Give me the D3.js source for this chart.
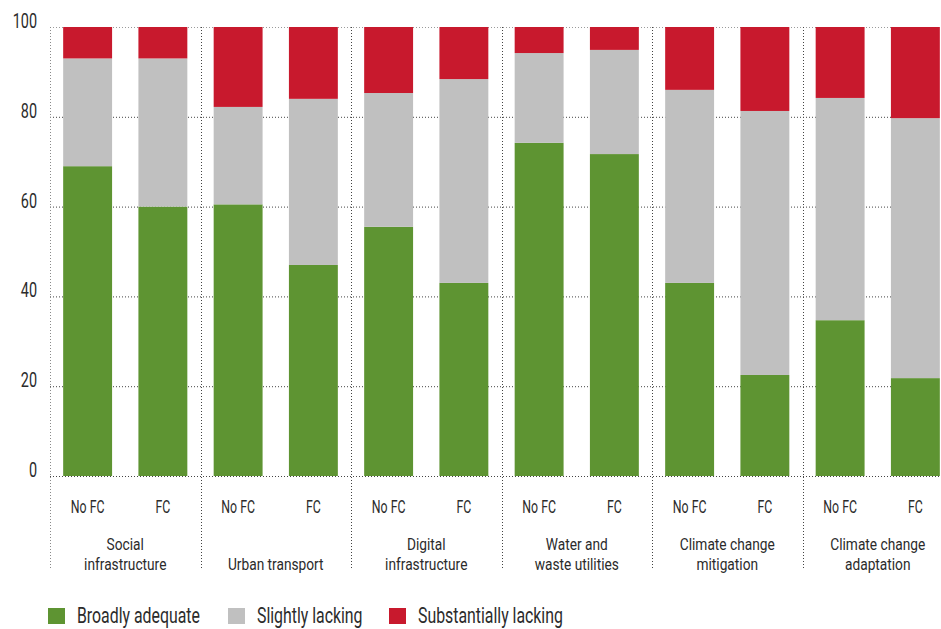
<!DOCTYPE html>
<html>
<head>
<meta charset="utf-8">
<script src="https://cdn.jsdelivr.net/npm/d3@7"></script>
<style>
  html, body { margin: 0; padding: 0; background: #fff; }
  svg { display: block; }
  text { font-family: "Roboto", "Open Sans", sans-serif; fill: #2b2b2b; }
</style>
</head>
<body>
<svg id="chart" width="941" height="629"></svg>
<script>
// ---- data ----
const categories = [
  ["Social", "infrastructure"],
  ["", "Urban transport"],
  ["Digital", "infrastructure"],
  ["Water and", "waste utilities"],
  ["Climate change", "mitigation"],
  ["Climate change", "adaptation"]
];
const subgroups = ["No FC", "FC"];
const seriesNames = ["Broadly adequate", "Slightly lacking", "Substantially lacking"];
const seriesColors = ["#5e9432", "#c0c0c0", "#c8192d"];
// values per bar, ordered: [cat0 No FC, cat0 FC, cat1 No FC, ...]
const broadlyAdequate   = [69, 60, 60.5, 47, 55.5, 43, 74.2, 71.7, 43, 22.5, 34.7, 21.8];
const slightlyLacking   = [24, 33, 21.7, 37, 29.8, 45.4, 20, 23.2, 43, 58.8, 49.5, 57.9];
const substantiallyLacking = [7, 7, 17.8, 16, 14.7, 11.6, 5.8, 5.1, 14, 18.7, 15.8, 20.3];
const yTicks = [0, 20, 40, 60, 80, 100];

// ---- layout ----
const svg = d3.select("#chart");
const mLeft = 50, mRight = 953, mTop = 27, mBottom = 476;

const xGroup = d3.scaleBand().domain(d3.range(categories.length)).range([mLeft, mRight]).padding(0);
const xInner = d3.scaleBand().domain(subgroups).range([0, xGroup.bandwidth()])
  .paddingInner(0.35).paddingOuter(0.175);
const y = d3.scaleLinear().domain([0, 100]).range([mBottom, mTop]);

// rows for stacking
const rows = [];
categories.forEach((c, ci) => {
  subgroups.forEach((s, si) => {
    const i = ci * 2 + si;
    rows.push({ cat: ci, sub: s,
      "Broadly adequate": broadlyAdequate[i],
      "Slightly lacking": slightlyLacking[i],
      "Substantially lacking": substantiallyLacking[i] });
  });
});
const stack = d3.stack().keys(seriesNames)(rows);

// calibration of a condensed look: measure first legend label
const probe = svg.append("text").attr("font-size", 22).text(seriesNames[0]);
const k = 123 / probe.node().getComputedTextLength();
probe.remove();
const place = (x, yy, f = 1) => `translate(${x},${yy}) scale(${k * f},1)`;

// gridlines
const grid = svg.append("g");
grid.selectAll("line.h").data(yTicks).join("line")
  .attr("x1", mLeft).attr("x2", 941)
  .attr("y1", d => y(d) + 0.5).attr("y2", d => y(d) + 0.5)
  .attr("stroke", d => d === 100 ? "#9a9a9a" : "#444")
  .attr("stroke-width", 1)
  .attr("stroke-dasharray", "1,2");

// vertical separators (left axis + group boundaries)
const seps = d3.range(categories.length).map(i => xGroup(i));
grid.selectAll("line.v").data(seps).join("line")
  .attr("x1", d => Math.round(d) + 0.5).attr("x2", d => Math.round(d) + 0.5)
  .attr("y1", mTop).attr("y2", 570)
  .attr("stroke", (d, i) => i === 0 ? "#8a8a8a" : "#444")
  .attr("stroke-width", 1)
  .attr("stroke-dasharray", "1,2");

// bars
const layers = svg.append("g").selectAll("g").data(stack).join("g")
  .attr("fill", (d, i) => seriesColors[i]);
layers.selectAll("rect").data(d => d).join("rect")
  .attr("x", d => xGroup(d.data.cat) + xInner(d.data.sub))
  .attr("width", xInner.bandwidth())
  .attr("y", d => y(d[1]))
  .attr("height", d => y(d[0]) - y(d[1]));

// y axis labels
svg.append("g").selectAll("text").data(yTicks).join("text")
  .attr("transform", d => place(37, y(d) + 1))
  .attr("text-anchor", "end")
  .attr("font-size", 20)
  .text(d => d);

// sub labels
svg.append("g").selectAll("text").data(rows).join("text")
  .attr("transform", d => place(xGroup(d.cat) + xInner(d.sub) + xInner.bandwidth() / 2, 513, 0.95))
  .attr("text-anchor", "middle")
  .attr("font-size", 18)
  .text(d => d.sub);

// category labels (two lines in one text)
const catT = svg.append("g").selectAll("text").data(categories).join("text")
  .attr("transform", (d, i) => place(xGroup(i) + xGroup.bandwidth() / 2, 0, 1.12))
  .attr("text-anchor", "middle")
  .attr("font-size", 17);
catT.each(function(d) {
  const t = d3.select(this);
  if (d[0]) t.append("tspan").attr("x", 0).attr("y", 550).text(d[0]);
  t.append("tspan").attr("x", 0).attr("y", 570).text(d[1]);
});

// legend
const legendX = [48, 228, 389];
const lg = svg.append("g").selectAll("g").data(seriesNames).join("g")
  .attr("transform", (d, i) => `translate(${legendX[i]},608)`);
lg.append("rect").attr("width", 17).attr("height", 16).attr("fill", (d, i) => seriesColors[i]);
lg.append("text").attr("transform", place(29, 15)).attr("font-size", 22).text(d => d);
</script>
</body>
</html>
